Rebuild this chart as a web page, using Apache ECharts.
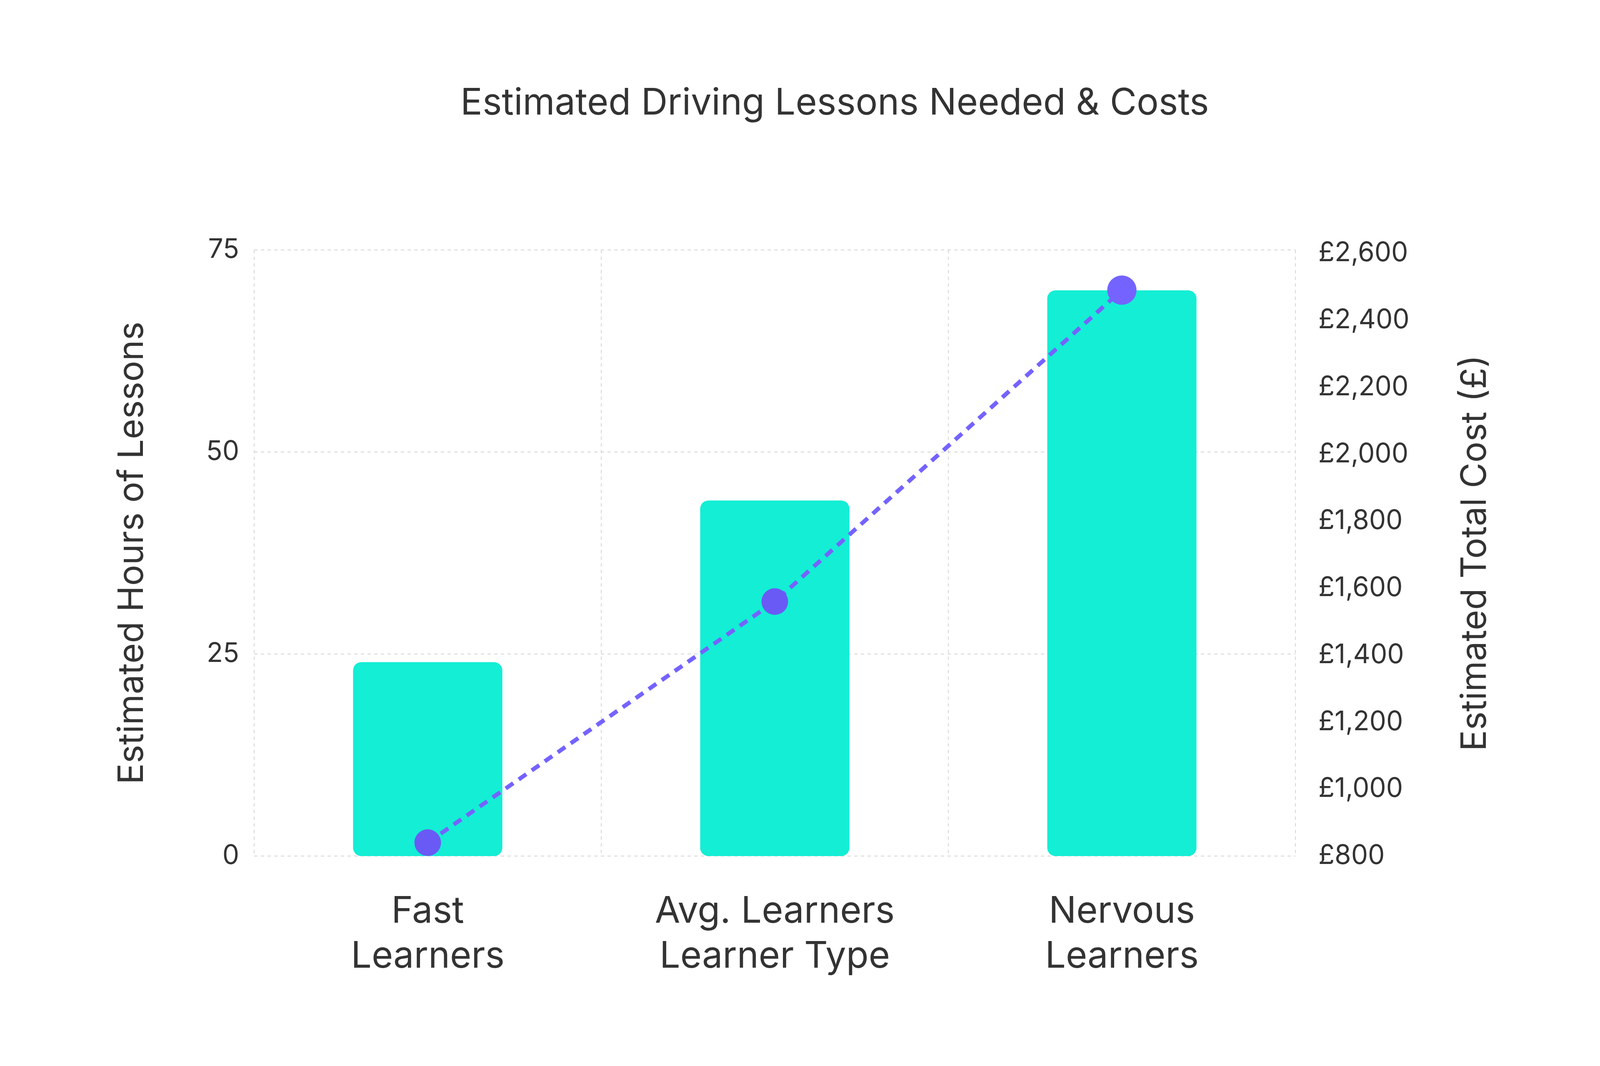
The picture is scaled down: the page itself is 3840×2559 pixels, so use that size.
<!DOCTYPE html>
<html>
<head>
<meta charset="utf-8">
<script src="https://cdn.jsdelivr.net/npm/echarts@6/dist/echarts.min.js"></script>
<style>
  html, body { margin: 0; padding: 0; background: #ffffff; }
  #chart { width: 3840px; height: 2559px; }
</style>
</head>
<body>
<div id="chart"></div>
<script>
// Data
var categories = ['Fast\nLearners', 'Avg. Learners\nLearner Type', 'Nervous\nLearners'];
var lessonHours = [24, 44, 70];
var totalCost = [840, 1560, 2490];

var chart = echarts.init(document.getElementById('chart'));
var font = 'Inter';
var gridLine = { show: true, lineStyle: { color: '#d6d6d6', type: [8, 8], width: 2 } };

chart.setOption({
    textStyle: { fontFamily: font, color: '#333' },
    title: {
        text: 'Estimated Driving Lessons Needed & Costs',
        left: 1100,
        top: 200,
        textStyle: { fontFamily: font, fontSize: 88, fontWeight: 400, color: '#333' }
    },
    grid: { left: 610, right: 731, top: 600, bottom: 504 },
    xAxis: {
        type: 'category',
        data: categories,
        axisLine: { show: false },
        axisTick: { show: false },
        splitLine: gridLine,
        axisLabel: { fontSize: 88, lineHeight: 108, color: '#333', margin: 80 }
    },
    yAxis: [
        {
            type: 'value',
            min: 0, max: 75, interval: 25,
            name: 'Estimated Hours of Lessons',
            nameLocation: 'middle',
            nameGap: 250,
            nameTextStyle: { fontSize: 84, color: '#333' },
            axisLabel: { fontSize: 64, color: '#333', margin: 36 },
            axisLine: { show: false },
            splitLine: gridLine
        },
        {
            type: 'value',
            min: 800, max: 2610, interval: 200,
            name: 'Estimated Total Cost (£)',
            nameLocation: 'middle',
            nameGap: 390,
            nameRotate: 90,
            nameTextStyle: { fontSize: 84, color: '#333' },
            axisLabel: {
                fontSize: 64, color: '#333', margin: 55, showMaxLabel: false,
                formatter: function (v) { return '£' + v.toLocaleString('en-GB'); }
            },
            axisLine: { show: false },
            splitLine: { show: false }
        }
    ],
    series: [
        {
            type: 'bar',
            data: lessonHours,
            barWidth: '43%',
            itemStyle: { color: '#13eed5', borderRadius: 20 }
        },
        {
            type: 'line',
            yAxisIndex: 1,
            data: totalCost,
            symbol: 'circle',
            symbolSize: 64,
            lineStyle: { color: '#6a5af5', width: 10, type: [22, 16] },
            itemStyle: { color: '#6a5af5' }
        }
    ]
});
</script>
</body>
</html>
